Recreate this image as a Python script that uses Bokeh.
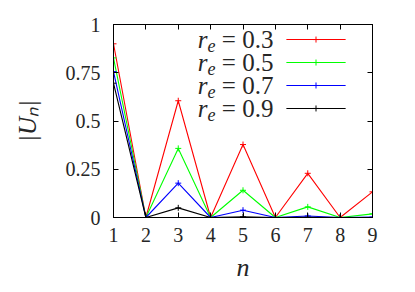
from bokeh.plotting import figure
from bokeh.models import Range1d, FixedTicker, LinearAxis, ColumnDataSource
from bokeh.core.properties import value
from bokeh.embed import file_html
from bokeh.resources import INLINE

# ---- data ----
n = [1, 2, 3, 4, 5, 6, 7, 8, 9]
u_03 = [0.90, 0.0, 0.605, 0.0, 0.378, 0.0, 0.229, 0.0, 0.133]
u_05 = [0.827, 0.0, 0.358, 0.0, 0.141, 0.0, 0.055, 0.0, 0.019]
u_07 = [0.756, 0.0, 0.178, 0.0, 0.038, 0.0, 0.008, 0.0, 0.002]
u_09 = [0.696, 0.0, 0.050, 0.0, 0.003, 0.0, 0.0005, 0.0, 0.0]
re_labels = ["0.3", "0.5", "0.7", "0.9"]
colors = ["#ff0000", "#00ff00", "#0000ff", "#000000"]
x_ticks = [1, 2, 3, 4, 5, 6, 7, 8, 9]
y_ticks = [0, 0.25, 0.5, 0.75, 1]
y_tick_labels = ["0", "0.25", "0.5", "0.75", "1"]

FONT = "Liberation Serif"
TXT = "#262626"

p = figure(width=407, height=290, output_backend="svg", toolbar_location=None,
           x_range=Range1d(1, 9), y_range=Range1d(0, 1),
           min_border_left=113, min_border_right=35, min_border_top=24, min_border_bottom=73)
p.grid.visible = False
p.outline_line_color = "black"
p.outline_line_width = 1

series = [u_03, u_05, u_07, u_09]
for ys, c in zip(series, colors):
    p.line(n, ys, line_color=c, line_width=1.1)
    p.scatter(n, ys, marker="cross", size=6, line_color=c, line_width=1)

def style(ax, labels=True):
    ax.major_tick_in = 5
    ax.major_tick_out = 0
    ax.minor_tick_line_color = None
    ax.axis_line_color = "black"
    ax.major_tick_line_color = "black"
    if labels:
        ax.major_label_text_font = FONT
        ax.major_label_text_font_size = "20px"
        ax.major_label_text_color = TXT
    else:
        ax.major_label_overrides = {t: "" for t in ax.ticker.ticks}
        ax.major_label_standoff = 0

xa = p.xaxis[0]
ya = p.yaxis[0]
xa.ticker = FixedTicker(ticks=x_ticks)
ya.ticker = FixedTicker(ticks=y_ticks)
ya.major_label_overrides = {t: l for t, l in zip(y_ticks, y_tick_labels)}
style(xa)
style(ya)
xa.major_label_standoff = 10
ya.major_label_standoff = 13
xa.axis_label = "n"
xa.axis_label_text_font = FONT
xa.axis_label_text_font_style = "italic"
xa.axis_label_text_font_size = "26px"
xa.axis_label_text_color = TXT
xa.axis_label_standoff = 8
ya.axis_label = "|U\u2099|"
ya.axis_label_text_font = FONT
ya.axis_label_text_font_style = "italic"
ya.axis_label_text_font_size = "25px"
ya.axis_label_text_color = TXT
ya.axis_label_standoff = 22

top = LinearAxis(ticker=FixedTicker(ticks=x_ticks))
right = LinearAxis(ticker=FixedTicker(ticks=y_ticks))
style(top, labels=False)
style(right, labels=False)
p.add_layout(top, "above")
p.add_layout(right, "right")

# ---- legend (drawn manually: text on the left, sample line on the right) ----
row_y = [0.922 - i * 0.119 for i in range(len(re_labels))]
lx0, lx1, tx = 6.34, 8.17, 5.94
for i, (lab, c) in enumerate(zip(re_labels, colors)):
    y = row_y[i]
    p.line([lx0, lx1], [y, y], line_color=c, line_width=1.1)
    p.scatter([(lx0 + lx1) / 2], [y], marker="cross", size=6, line_color=c)
src = ColumnDataSource(dict(x=[tx] * len(re_labels), y=row_y,
                            eq=["= " + l for l in re_labels],
                            r=["r"] * len(re_labels), e=["e"] * len(re_labels)))
p.text(x="x", y="y", text="eq", source=src, text_font=value(FONT), text_font_size="25px",
       text_align="right", text_baseline="middle", text_color=TXT)
p.text(x="x", y="y", text="r", source=src, text_font=value(FONT), text_font_size="25px",
       text_font_style="italic", text_align="right", text_baseline="middle",
       text_color=TXT, x_offset=-66)
p.text(x="x", y="y", text="e", source=src, text_font=value(FONT), text_font_size="18px",
       text_font_style="italic", text_align="left", text_baseline="middle",
       text_color=TXT, x_offset=-66, y_offset=6)

open("out.html", "w").write(file_html(p, INLINE))
